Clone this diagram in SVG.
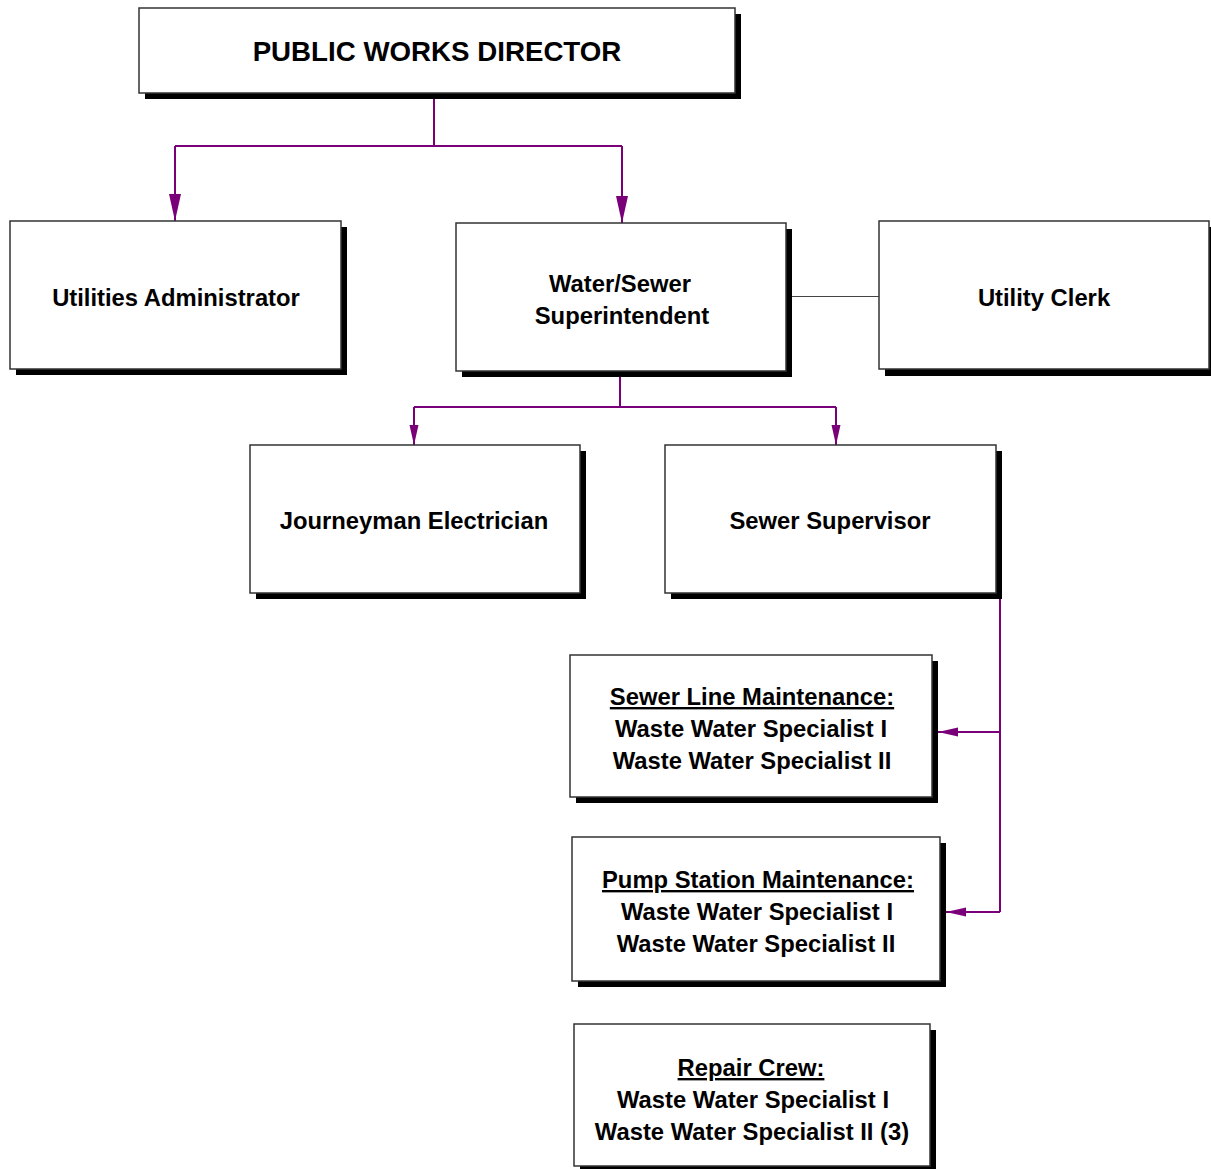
<svg xmlns="http://www.w3.org/2000/svg" width="1211" height="1169" viewBox="0 0 1211 1169">
<defs>
<style>
.shadow{fill:#000}
.box{fill:#fff;stroke:#333;stroke-width:1.5}
.t{font-family:"Liberation Sans",Arial,sans-serif;font-weight:bold;font-size:23.8px;fill:#000;text-anchor:middle}
.big{font-size:27.7px}
.u{text-decoration:underline}
.c{fill:none;stroke:#7a007a;stroke-width:2}
.plain{fill:none;stroke:#444;stroke-width:1}
</style>
<marker id="ab" markerUnits="userSpaceOnUse" markerWidth="27" markerHeight="14" refX="27" refY="7" orient="auto"><path d="M0,1 L27,7 L0,13 Z" fill="#7a007a"/></marker>
<marker id="as" markerUnits="userSpaceOnUse" markerWidth="20" markerHeight="10" refX="20" refY="5" orient="auto"><path d="M0,0.5 L20,5 L0,9.5 Z" fill="#7a007a"/></marker>
</defs>
<rect width="1211" height="1169" fill="#fff"/>
<g id="connectors">
<path class="c" d="M434,99 V146 M175,146 H622"/>
<path class="c" d="M175,146 V221" marker-end="url(#ab)"/>
<path class="c" d="M622,146 V223" marker-end="url(#ab)"/>
<path class="c" d="M620,377 V407 M414,407 H836"/>
<path class="c" d="M414,407 V445" marker-end="url(#as)"/>
<path class="c" d="M836,407 V445" marker-end="url(#as)"/>
<path class="c" d="M1000,599 V912"/>
<path class="c" d="M1000,732 H938" marker-end="url(#as)"/>
<path class="c" d="M1000,912 H946" marker-end="url(#as)"/>
<path class="plain" d="M792,296.5 H880"/>
</g>
<g id="director">
<rect class="shadow" x="145" y="14" width="596" height="85"/>
<rect class="box" x="139" y="8" width="596" height="85"/>
<text class="t big" x="437" y="61">PUBLIC WORKS DIRECTOR</text>
</g>
<g id="utilities-administrator">
<rect class="shadow" x="16" y="227" width="331" height="148"/>
<rect class="box" x="10" y="221" width="331" height="148"/>
<text class="t" x="176" y="306">Utilities Administrator</text>
</g>
<g id="water-sewer-superintendent">
<rect class="shadow" x="462" y="229" width="330" height="148"/>
<rect class="box" x="456" y="223" width="330" height="148"/>
<text class="t" x="620" y="292">Water/Sewer</text>
<text class="t" x="622" y="324">Superintendent</text>
</g>
<g id="utility-clerk">
<rect class="shadow" x="885" y="227" width="326" height="149"/>
<rect class="box" x="879" y="221" width="330" height="148"/>
<text class="t" x="1044" y="306">Utility Clerk</text>
</g>
<g id="journeyman-electrician">
<rect class="shadow" x="256" y="451" width="330" height="148"/>
<rect class="box" x="250" y="445" width="330" height="148"/>
<text class="t" x="414" y="529">Journeyman Electrician</text>
</g>
<g id="sewer-supervisor">
<rect class="shadow" x="671" y="451" width="331" height="148"/>
<rect class="box" x="665" y="445" width="331" height="148"/>
<text class="t" x="830" y="529">Sewer Supervisor</text>
</g>
<g id="sewer-line-maintenance">
<rect class="shadow" x="576" y="661" width="362" height="142"/>
<rect class="box" x="570" y="655" width="362" height="142"/>
<text class="t u" x="752" y="705">Sewer Line Maintenance:</text>
<text class="t" x="751" y="737">Waste Water Specialist I</text>
<text class="t" x="752" y="769">Waste Water Specialist II</text>
</g>
<g id="pump-station-maintenance">
<rect class="shadow" x="578" y="843" width="368" height="144"/>
<rect class="box" x="572" y="837" width="368" height="144"/>
<text class="t u" x="758" y="888">Pump Station Maintenance:</text>
<text class="t" x="757" y="920">Waste Water Specialist I</text>
<text class="t" x="756" y="952">Waste Water Specialist II</text>
</g>
<g id="repair-crew">
<rect class="shadow" x="580" y="1030" width="356" height="139"/>
<rect class="box" x="574" y="1024" width="356" height="142"/>
<text class="t u" x="751" y="1076">Repair Crew:</text>
<text class="t" x="753" y="1108">Waste Water Specialist I</text>
<text class="t" x="752" y="1140">Waste Water Specialist II (3)</text>
</g>
</svg>
